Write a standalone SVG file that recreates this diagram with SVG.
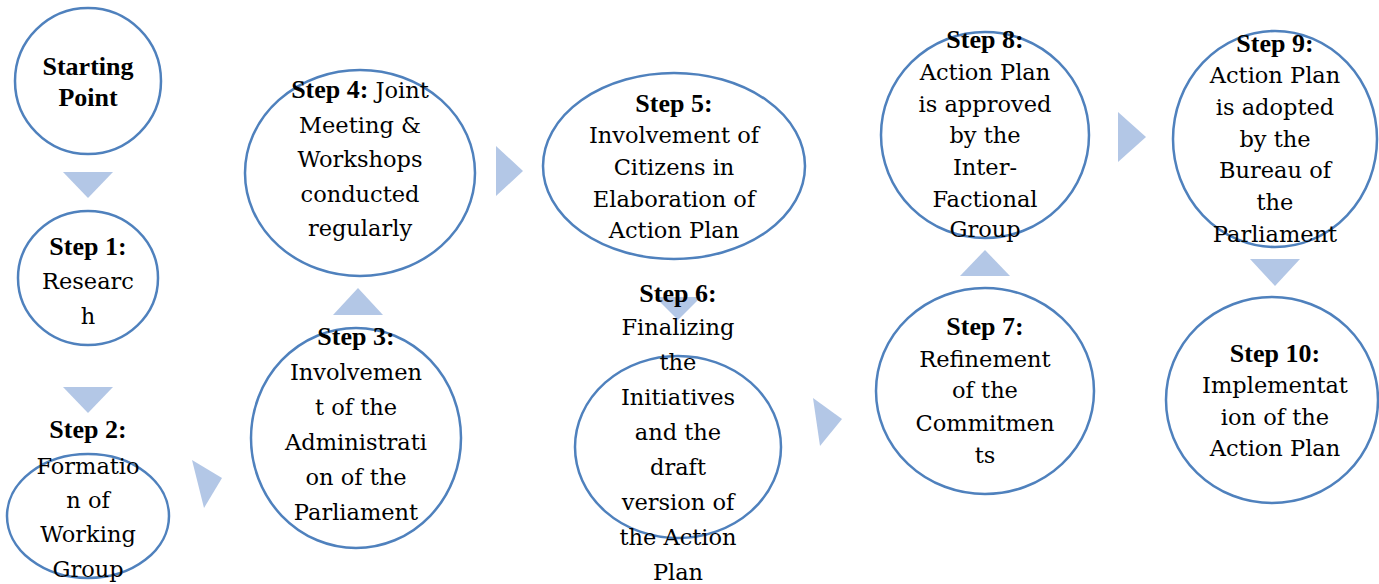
<svg xmlns="http://www.w3.org/2000/svg" width="1379" height="584" viewBox="0 0 1379 584">
<style>
.n{fill:none;stroke:#4F81BD;stroke-width:2.5}
.a{fill:#B3C7E6}
text{font-family:"DejaVu Serif",serif;font-size:22.5px;fill:#000;text-anchor:middle}
.b{font-family:"Liberation Serif",serif;font-weight:bold;font-size:26px}
</style>
<rect width="1379" height="584" fill="#fff"/>
<g id="connectors">
<polygon class="a" points="63,172 113,172 88,198"/>
<polygon class="a" points="63,387 113,387 88,413"/>
<polygon class="a" points="192,460 222,478 204,508"/>
<polygon class="a" points="333,315 383,315 358,288"/>
<polygon class="a" points="496,146 523,171 496,196"/>
<polygon class="a" points="655,297 701,297 678,320"/>
<polygon class="a" points="813,398 842,419 820,446"/>
<polygon class="a" points="960,276 1010,276 985,250"/>
<polygon class="a" points="1118,112 1146,137 1118,162"/>
<polygon class="a" points="1250,259 1300,259 1275,286"/>
</g>
<g id="start">
<ellipse class="n" cx="88" cy="81" rx="73" ry="73"/>
<text class="b" x="88" y="75">Starting</text>
<text class="b" x="88" y="106">Point</text>
</g>
<g id="step1">
<ellipse class="n" cx="88" cy="278" rx="70" ry="67"/>
<text class="b" x="88" y="255">Step 1:</text>
<text x="88" y="289">Researc</text>
<text x="88" y="324">h</text>
</g>
<g id="step2">
<ellipse class="n" cx="88" cy="516" rx="81" ry="62"/>
<text class="b" x="88" y="438">Step 2:</text>
<text x="88" y="474">Formatio</text>
<text x="88" y="508">n of</text>
<text x="88" y="542">Working</text>
<text x="88" y="577">Group</text>
</g>
<g id="step3">
<ellipse class="n" cx="356" cy="438" rx="105" ry="110"/>
<text class="b" x="356" y="345">Step 3:</text>
<text x="356" y="380">Involvemen</text>
<text x="356" y="415">t of the</text>
<text x="356" y="450">Administrati</text>
<text x="356" y="485">on of the</text>
<text x="356" y="520">Parliament</text>
</g>
<g id="step4">
<ellipse class="n" cx="360" cy="173" rx="115" ry="103"/>
<text x="360" y="98"><tspan class="b">Step 4:</tspan> Joint</text>
<text x="360" y="133">Meeting &amp;</text>
<text x="360" y="167">Workshops</text>
<text x="360" y="202">conducted</text>
<text x="360" y="236">regularly</text>
</g>
<g id="step5">
<ellipse class="n" cx="674" cy="166" rx="131" ry="93"/>
<text class="b" x="674" y="112">Step 5:</text>
<text x="674" y="143">Involvement of</text>
<text x="674" y="175">Citizens in</text>
<text x="674" y="207">Elaboration of</text>
<text x="674" y="238">Action Plan</text>
</g>
<g id="step6">
<ellipse class="n" cx="678" cy="447" rx="103" ry="91"/>
<text class="b" x="678" y="302">Step 6:</text>
<text x="678" y="335">Finalizing</text>
<text x="678" y="370">the</text>
<text x="678" y="405">Initiatives</text>
<text x="678" y="440">and the</text>
<text x="678" y="475">draft</text>
<text x="678" y="510">version of</text>
<text x="678" y="545">the Action</text>
<text x="678" y="580">Plan</text>
</g>
<g id="step7">
<ellipse class="n" cx="985" cy="391" rx="109" ry="103"/>
<text class="b" x="985" y="335">Step 7:</text>
<text x="985" y="367">Refinement</text>
<text x="985" y="398">of the</text>
<text x="985" y="431">Commitmen</text>
<text x="985" y="463">ts</text>
</g>
<g id="step8">
<ellipse class="n" cx="985" cy="135" rx="104" ry="103"/>
<text class="b" x="985" y="48">Step 8:</text>
<text x="985" y="80">Action Plan</text>
<text x="985" y="112">is approved</text>
<text x="985" y="143">by the</text>
<text x="985" y="175">Inter-</text>
<text x="985" y="207">Factional</text>
<text x="985" y="237">Group</text>
</g>
<g id="step9">
<ellipse class="n" cx="1275" cy="139" rx="102" ry="108"/>
<text class="b" x="1275" y="52">Step 9:</text>
<text x="1275" y="83">Action Plan</text>
<text x="1275" y="115">is adopted</text>
<text x="1275" y="147">by the</text>
<text x="1275" y="178">Bureau of</text>
<text x="1275" y="210">the</text>
<text x="1275" y="242">Parliament</text>
</g>
<g id="step10">
<ellipse class="n" cx="1272" cy="400" rx="106" ry="103"/>
<text class="b" x="1275" y="362">Step 10:</text>
<text x="1275" y="393">Implementat</text>
<text x="1275" y="425">ion of the</text>
<text x="1275" y="456">Action Plan</text>
</g>
</svg>
